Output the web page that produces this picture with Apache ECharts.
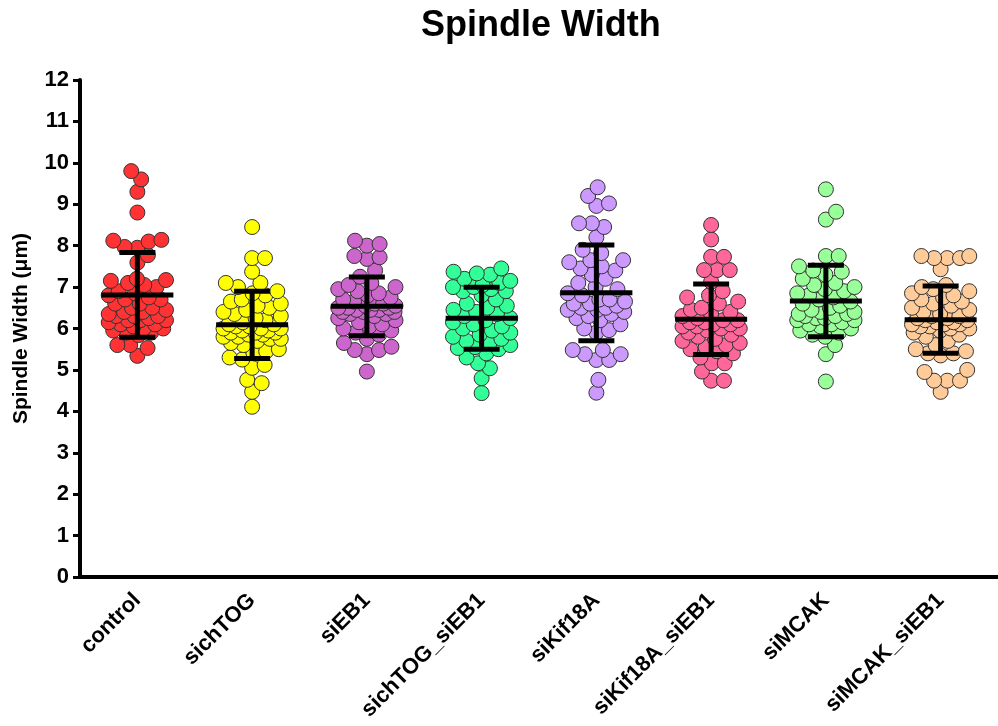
<!DOCTYPE html>
<html>
<head>
<meta charset="utf-8">
<script src="https://cdn.jsdelivr.net/npm/echarts@6/dist/echarts.min.js"></script>
<style>
html,body{margin:0;padding:0;background:#fff;}
#chart{width:998px;height:726px;}
</style>
</head>
<body>
<div id="chart"></div>
<script>
// ---- data ----
const categories = ['control','sichTOG','siEB1','sichTOG_siEB1','siKif18A','siKif18A_siEB1','siMCAK','siMCAK_siEB1'];
const yTicks = [0,1,2,3,4,5,6,7,8,9,10,11,12];

const control = [9.8,9.6,9.3,8.8,8.14,8.12,8.1,7.97,7.95,7.77,7.59,7.2,7.17,7.15,7.1,7.05,7.0,6.9,6.85,6.8,6.75,6.7,6.7,6.6,6.6,6.5,6.5,6.45,6.4,6.4,6.35,6.3,6.3,6.3,6.25,6.2,6.2,6.2,6.15,6.1,6.1,6.05,6.0,6.0,5.95,5.9,5.9,5.84,5.6,5.6,5.53,5.34];
const sichTOG = [8.45,7.7,7.7,7.37,7.1,7.1,7.0,6.9,6.85,6.8,6.7,6.65,6.6,6.55,6.5,6.45,6.4,6.35,6.3,6.25,6.2,6.15,6.1,6.1,6.05,6.05,6.0,6.0,6.0,5.95,5.95,5.9,5.9,5.9,5.85,5.85,5.8,5.8,5.75,5.75,5.7,5.65,5.6,5.5,5.45,5.4,5.3,5.25,5.12,5.05,4.76,4.68,4.47,4.11];
const siEB1 = [8.12,8.04,8.0,7.75,7.72,7.68,7.4,7.25,7.1,7.05,7.0,6.95,6.9,6.85,6.8,6.75,6.7,6.65,6.6,6.6,6.55,6.55,6.5,6.5,6.5,6.45,6.45,6.45,6.4,6.4,6.4,6.35,6.35,6.3,6.25,6.2,6.15,6.1,6.05,6.0,5.95,5.9,5.85,5.75,5.65,5.56,5.48,5.48,5.38,4.96];
const sichTOG_siEB1 = [7.45,7.37,7.33,7.3,7.2,7.15,7.1,7.05,7.0,7.0,6.95,6.9,6.9,6.8,6.7,6.6,6.55,6.5,6.45,6.4,6.35,6.3,6.25,6.2,6.15,6.1,6.05,6.0,5.95,5.9,5.85,5.8,5.75,5.7,5.65,5.6,5.55,5.53,5.5,5.4,5.3,5.16,5.04,4.8,4.44];
const siKif18A = [9.41,9.2,9.02,8.96,8.54,8.54,8.45,8.2,7.9,7.82,7.65,7.65,7.6,7.5,7.45,7.4,7.3,7.2,7.1,7.0,6.95,6.85,6.8,6.7,6.7,6.65,6.6,6.6,6.55,6.5,6.5,6.45,6.45,6.4,6.35,6.3,6.25,6.2,6.1,6.0,5.96,5.9,5.48,5.48,5.38,5.38,5.24,5.24,4.76,4.45];
const siKif18A_siEB1 = [8.5,8.15,7.73,7.73,7.41,7.41,7.41,7.13,6.9,6.8,6.75,6.65,6.6,6.5,6.45,6.4,6.35,6.3,6.25,6.2,6.2,6.15,6.15,6.1,6.1,6.05,6.05,6.0,6.0,5.95,5.9,5.85,5.8,5.75,5.7,5.65,5.6,5.55,5.5,5.45,5.4,5.3,5.16,5.16,4.96,4.74,4.74];
const siMCAK = [9.36,8.82,8.63,7.75,7.75,7.5,7.4,7.37,7.3,7.2,7.1,7.05,7.0,6.95,6.9,6.85,6.8,6.75,6.7,6.65,6.6,6.55,6.5,6.45,6.4,6.4,6.35,6.35,6.3,6.3,6.25,6.25,6.2,6.2,6.15,6.1,6.1,6.05,6.0,5.95,5.9,5.85,5.8,5.6,5.38,4.72];
const siMCAK_siEB1 = [7.75,7.75,7.7,7.7,7.7,7.43,7.05,7.0,6.95,6.9,6.85,6.8,6.75,6.7,6.65,6.6,6.55,6.5,6.45,6.4,6.35,6.3,6.3,6.25,6.25,6.2,6.2,6.15,6.15,6.1,6.1,6.1,6.05,6.05,6.0,6.0,5.95,5.9,5.85,5.8,5.7,5.6,5.5,5.45,5.4,5.4,5.35,5.0,4.95,4.74,4.74,4.74,4.47];

const groups = [control,sichTOG,siEB1,sichTOG_siEB1,siKif18A,siKif18A_siEB1,siMCAK,siMCAK_siEB1];
const colors = ['#FF3333','#FFFF00','#CC66CC','#33FF99','#CC99FF','#FF6699','#99FF99','#FFCC99'];

// ---- layout constants (styles) ----
const GRID = {left:80, top:80, width:930, height:497};
const BAND = GRID.width / categories.length;
const PXY = GRID.height / (yTicks[yTicks.length-1] - yTicks[0]);
const MARK = 15;           // symbol diameter, px
const MIN_DIST = 13;       // preferred centre distance, px
const HALF_SPREAD = 29;    // max horizontal half-width of point centres, px

// swarm layout: each point goes as close to the centre as possible without
// overlapping earlier points; if the column is full, the least-overlapping spot.
function layout(values, idx){
  const vals = values.slice().sort((a,b)=>a-b);
  const placed = [];
  vals.forEach(v => {
    const y = v * PXY;
    const near = placed.filter(p => Math.abs(p[1]-y) < MIN_DIST);
    const minD = x => near.reduce((m,p)=>Math.min(m, Math.hypot(p[0]-x, p[1]-y)), Infinity);
    let cands = [0];
    near.forEach(p => { const dx = Math.sqrt(MIN_DIST*MIN_DIST - (p[1]-y)*(p[1]-y)); cands.push(p[0]+dx, p[0]-dx); });
    cands = cands.filter(x => Math.abs(x) <= HALF_SPREAD + 1e-9 && minD(x) >= MIN_DIST - 1e-6);
    let best;
    if (cands.length) {
      best = cands.reduce((a,b)=> Math.abs(b) < Math.abs(a) - 1e-9 ? b : a);
    } else {
      let bd = -1;
      for (let x=-HALF_SPREAD; x<=HALF_SPREAD; x+=0.5) {
        const d = minD(x);
        if (d > bd + 1e-9 || (Math.abs(d-bd) < 1e-9 && Math.abs(x) < Math.abs(best))) { bd = d; best = x; }
      }
    }
    placed.push([best, y, v]);
  });
  return placed.map(p => [idx + p[0]/BAND, p[2]]);
}
function stats(values){
  const n = values.length;
  const m = values.reduce((a,b)=>a+b,0)/n;
  const sd = Math.sqrt(values.reduce((a,b)=>a+(b-m)*(b-m),0)/(n-1));
  return [m, sd];
}

const FONT = 'Liberation Sans, Arial, sans-serif';
const series = groups.map((g,i) => ({
  type:'scatter', xAxisIndex:1, yAxisIndex:0,
  data: layout(g,i),
  symbol:'circle', symbolSize: MARK,
  itemStyle:{color:colors[i], borderColor:'#333', borderWidth:1, opacity:1},
  z:2, silent:true
}));
const errData = groups.map((g,i) => { const [m,sd] = stats(g); return [i, m, sd]; });
series.push({
  type:'custom', xAxisIndex:1, yAxisIndex:0, z:10, silent:true,
  data: errData,
  renderItem: function(params, api){
    const i = api.value(0), m = api.value(1), sd = api.value(2);
    const c = api.coord([i, m]), hi = api.coord([i, m+sd]), lo = api.coord([i, m-sd]);
    const st = {stroke:'#000', lineWidth:5, lineCap:'butt'};
    return {type:'group', children:[
      {type:'line', shape:{x1:c[0]-36, y1:c[1], x2:c[0]+36, y2:c[1]}, style:st},
      {type:'line', shape:{x1:c[0], y1:hi[1], x2:c[0], y2:lo[1]}, style:st},
      {type:'line', shape:{x1:c[0]-18, y1:hi[1], x2:c[0]+18, y2:hi[1]}, style:st},
      {type:'line', shape:{x1:c[0]-18, y1:lo[1], x2:c[0]+18, y2:lo[1]}, style:st}
    ]};
  }
});

const chart = echarts.init(document.getElementById('chart'), null, {renderer:'canvas'});
chart.setOption({
  animation:false,
  backgroundColor:'#fff',
  title:{text:'Spindle Width', left:416, top:3,
    textStyle:{fontFamily:FONT, fontWeight:'bold', fontSize:36, color:'#000'}},
  grid:{left:GRID.left, top:GRID.top, width:GRID.width, height:GRID.height, containLabel:false},
  xAxis:[
    {type:'category', data:categories, position:'bottom', boundaryGap:true,
     axisLine:{lineStyle:{color:'#000', width:4}},
     axisTick:{alignWithLabel:true, length:7, lineStyle:{color:'#000', width:3}},
     axisLabel:{rotate:45, margin:20, interval:0, color:'#000', fontFamily:FONT, fontWeight:'bold', fontSize:22},
     splitLine:{show:false}},
    {type:'value', min:-0.5, max:7.5, show:false, splitLine:{show:false}}
  ],
  yAxis:[{type:'value', min:yTicks[0], max:yTicks[yTicks.length-1], interval:1,
    name:'Spindle Width (μm)', nameLocation:'middle', nameGap:48,
    nameTextStyle:{fontFamily:FONT, fontWeight:'bold', fontSize:21, color:'#000'},
    axisLine:{show:true, onZero:false, lineStyle:{color:'#000', width:4}},
    axisTick:{show:true, length:7, lineStyle:{color:'#000', width:3}},
    axisLabel:{color:'#000', fontFamily:FONT, fontWeight:'bold', fontSize:22, margin:11},
    splitLine:{show:false}}],
  series: series
});
</script>
</body>
</html>
